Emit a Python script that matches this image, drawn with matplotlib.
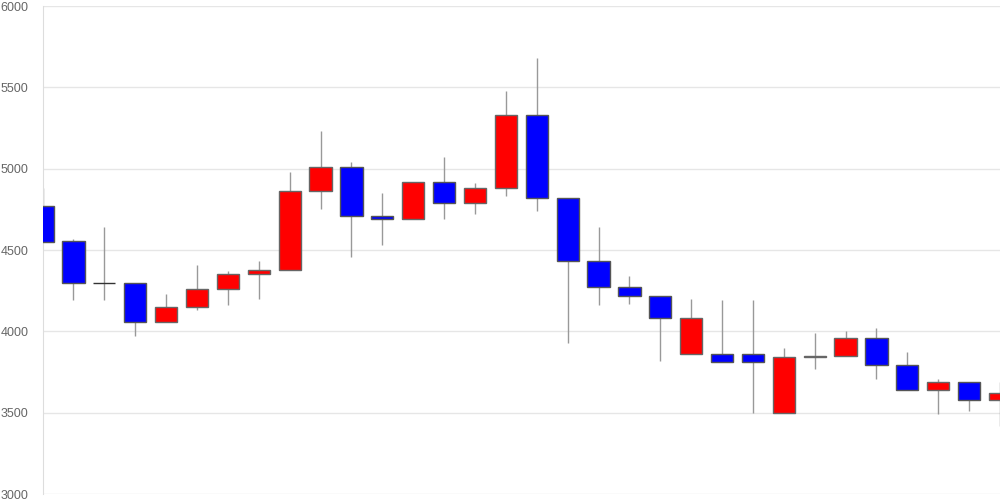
import matplotlib
matplotlib.use('Agg')
import matplotlib.pyplot as plt
import numpy as np

# daily OHLC
opens  = [4770, 4555, 4300, 4300, 4060, 4150, 4260, 4350, 4380, 4860, 5010, 4710, 4690, 4920, 4790, 4880,
          5330, 4820, 4430, 4270, 4220, 3860, 3860, 3860, 3500, 3840, 3850, 3960, 3790, 3640, 3690, 3580]
closes = [4550, 4300, 4300, 4060, 4150, 4260, 4350, 4380, 4860, 5010, 4710, 4690, 4920, 4790, 4880, 5330,
          4820, 4430, 4270, 4220, 4080, 4080, 3810, 3810, 3840, 3850, 3960, 3790, 3640, 3690, 3580, 3620]
highs  = [4880, 4570, 4640, 4300, 4230, 4410, 4370, 4430, 4980, 5230, 5040, 4850, 4920, 5070, 4910, 5480,
          5680, 4820, 4640, 4340, 4220, 4200, 4190, 4190, 3900, 3990, 4000, 4020, 3870, 3710, 3690, 3690]
lows   = [4550, 4190, 4190, 3970, 4060, 4130, 4160, 4200, 4380, 4750, 4460, 4530, 4690, 4690, 4720, 4830,
          4740, 3930, 4160, 4170, 3820, 3860, 3810, 3500, 3500, 3770, 3850, 3710, 3640, 3490, 3510, 3420]
y_ticks = [3000, 3500, 4000, 4500, 5000, 5500, 6000]

x = np.arange(len(opens))
opens = np.array(opens)
closes = np.array(closes)

fig = plt.figure(figsize=(10, 5), dpi=100)
ax = fig.add_axes([0.0426, 0.012, 0.9574, 0.976])

colors = []
edges = []
for o, c in zip(opens, closes):
    if c > o:
        colors.append('#ff0000')
        edges.append('#666666')
    elif c < o:
        colors.append('#0000ff')
        edges.append('#555555')
    else:
        colors.append('#333333')
        edges.append('#333333')

ax.vlines(x, lows, highs, color='#999999', linewidth=1, zorder=2)
ax.bar(x, np.abs(closes - opens), bottom=np.minimum(opens, closes), width=0.72,
       color=colors, edgecolor=edges, linewidth=1, zorder=3)

ax.set_xlim(0, len(opens) - 1)
ax.set_ylim(3000, 6000)
ax.set_yticks(y_ticks)
ax.set_xticks([])
ax.grid(axis='y', color='#e6e6e6', linewidth=1, zorder=0)
ax.set_axisbelow(True)

for s in ['top', 'right', 'bottom']:
    ax.spines[s].set_visible(False)
ax.spines['left'].set_color('#dddddd')
ax.tick_params(axis='y', length=0, pad=10, labelsize=9, labelcolor='#666666')
for lbl in ax.get_yticklabels():
    lbl.set_fontfamily('Liberation Sans')

fig.savefig('out.png', dpi=100)
